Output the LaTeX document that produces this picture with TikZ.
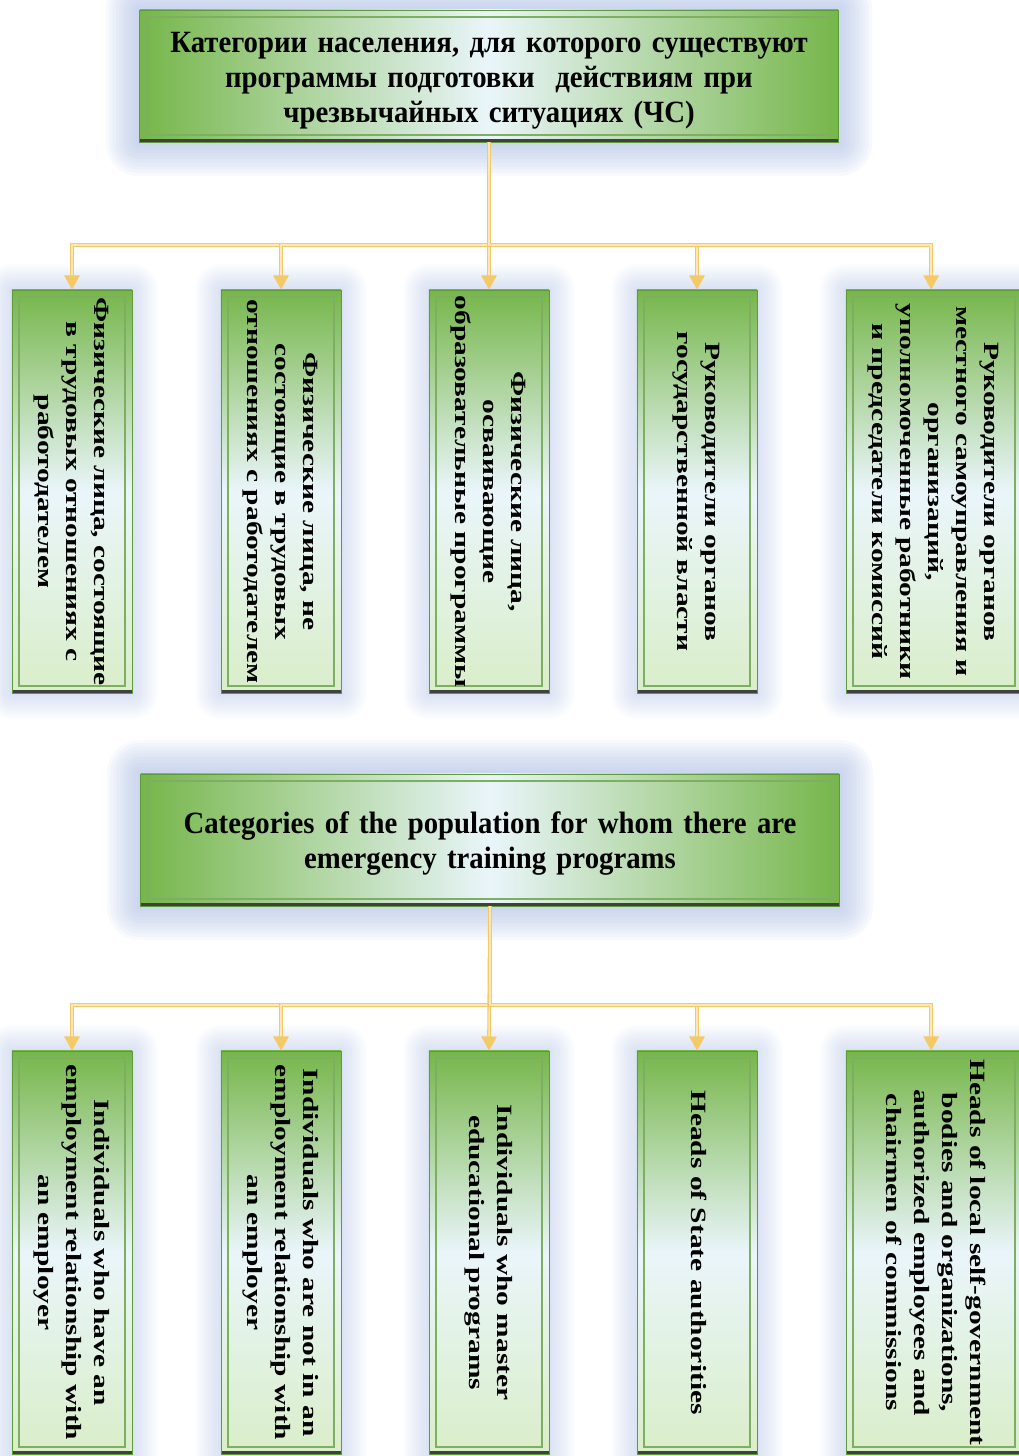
\documentclass[tikz,border=0pt]{standalone}
\usepackage{fontspec}
\setmainfont{Liberation Serif}
\newfontfamily\headfont{Liberation Serif}[FakeStretch=0.93, WordSpace=0.8]
\newfontfamily\sidefont{Liberation Serif}[FakeStretch=1.35]
\usepackage{graphicx}
\usetikzlibrary{arrows.meta, calc}
\pgfdeclarelayer{background}
\pgfsetlayers{background,main}

\definecolor{boxgreen}{HTML}{76B64A}
\definecolor{boxpale}{HTML}{EAF5FA}
\definecolor{boxlow}{HTML}{D9EEC9}
\definecolor{boxedge}{HTML}{5E9A3A}
\definecolor{linkgold}{HTML}{F5C966}
\definecolor{glowblue}{HTML}{A9BCE6}

\tikzset{
    headbox/.style={draw=boxedge, line width=0.6pt, minimum width=17.45cm, minimum height=3.3cm,
        left color=boxgreen, right color=boxgreen, middle color=boxpale,
        text width=17cm, align=center, inner sep=0pt,
        font=\headfont\bfseries\fontsize{22}{24.9}\selectfont, bevel},
    sidebox/.style={draw=boxedge, line width=0.6pt, minimum width=3cm, minimum height=10.075cm,
        top color=boxgreen, bottom color=boxlow, middle color=boxpale, inner sep=0pt,
        font=\sidefont\bfseries\fontsize{15.5}{19.9}\selectfont, bevel},
    bevel/.style={path picture={
        \draw[boxedge!80, line width=0.8pt]
            ([shift={(5pt,-5pt)}]path picture bounding box.north west) rectangle
            ([shift={(-5pt,5pt)}]path picture bounding box.south east);
        \draw[black!75, line width=4pt]
            (path picture bounding box.south west) -- (path picture bounding box.south east);}},
    link/.style={draw=linkgold, line width=0.8pt, double=linkgold!45!white, double distance=1.1pt,
        -{Triangle[width=11pt, length=10pt, fill=linkgold]}},
}

\newcommand{\vtext}[1]{\rotatebox{-90}{\begin{tabular}{@{}c@{}}#1\end{tabular}}}
\newcommand{\glow}[3]{% node, spread step, opacity
    \begin{pgfonlayer}{background}
        \foreach \g in {1,...,10}
            \fill[glowblue, opacity=#3, rounded corners=\g*#2 pt]
                ($(#1.north west)+(-\g*#2 pt,\g*#2 pt)$) rectangle ($(#1.south east)+(\g*#2 pt,-\g*#2 pt)$);
    \end{pgfonlayer}}

\begin{document}
\begin{tikzpicture}[x=0.025cm, y=-0.025cm]
    \useasboundingbox (0,0) rectangle (1019,1456);
    \clip (0,0) rectangle (1019,1456);
    \begin{pgfonlayer}{background}
        \fill[white] (0,0) rectangle (1019,1456);
    \end{pgfonlayer}

    % Russian chart
    \node[headbox] (hru) at (489,76) {\rule{0pt}{21pt}Категории населения, для которого существуют\\программы подготовки\ \ действиям при\\чрезвычайных ситуациях (ЧС)};
    \glow{hru}{2.4}{0.08}

    \node[sidebox] (ru1) at (72,491.5) {\vtext{Физические лица, состоящие\\в трудовых отношениях с\\работодателем}};
    \node[sidebox] (ru2) at (281,491.5) {\vtext{Физические лица, не\\состоящие в трудовых\\отношениях с работодателем}};
    \node[sidebox] (ru3) at (489,491.5) {\vtext{Физические лица,\\осваивающие\\образовательные программы}};
    \node[sidebox] (ru4) at (697,491.5) {\vtext{Руководители органов\\государственной власти}};
    \node[sidebox, minimum width=4.4cm] (ru5) at (934,491.5) {\vtext{Руководители органов\\местного самоуправления и\\организаций,\\уполномоченные работники\\и председатели комиссий}};
    \glow{ru1}{1.8}{0.045}
    \glow{ru2}{1.8}{0.045}
    \glow{ru3}{1.8}{0.045}
    \glow{ru4}{1.8}{0.045}
    \glow{ru5}{1.8}{0.045}

    \coordinate (rubar) at (489,245);
    \draw[link] (hru.south) -- (rubar) -| (ru1.north);
    \draw[link] (hru.south) -- (rubar) -| (ru2.north);
    \draw[link] (hru.south) -- (ru3.north);
    \draw[link] (hru.south) -- (rubar) -| (ru4.north);
    \draw[link] (hru.south) -- (rubar) -| ([xshift=-2pt]ru5.north);

    % English chart
    \node[headbox] (hen) at (490,840) {\rule{0pt}{20pt}Categories of the population for whom there are\\emergency training programs};
    \glow{hen}{2.4}{0.08}

    \node[sidebox] (en1) at (72,1252.5) {\vtext{Individuals who have an\\employment relationship with\\an employer}};
    \node[sidebox] (en2) at (281,1252.5) {\vtext{Individuals who are not in an\\employment relationship with\\an employer}};
    \node[sidebox] (en3) at (489,1252.5) {\vtext{Individuals who master\\educational programs}};
    \node[sidebox] (en4) at (697,1252.5) {\vtext{Heads of State authorities}};
    \node[sidebox, minimum width=4.4cm] (en5) at (934,1252.5) {\vtext{Heads of local self-government\\bodies and organizations,\\authorized employees and\\chairmen of commissions}};
    \glow{en1}{1.8}{0.045}
    \glow{en2}{1.8}{0.045}
    \glow{en3}{1.8}{0.045}
    \glow{en4}{1.8}{0.045}
    \glow{en5}{1.8}{0.045}

    \coordinate (enbar) at (490,1005);
    \draw[link] (hen.south) -- (enbar) -| (en1.north);
    \draw[link] (hen.south) -- (enbar) -| (en2.north);
    \draw[link] (hen.south) -- (en3.north);
    \draw[link] (hen.south) -- (enbar) -| (en4.north);
    \draw[link] (hen.south) -- (enbar) -| ([xshift=-2pt]en5.north);
\end{tikzpicture}
\end{document}
